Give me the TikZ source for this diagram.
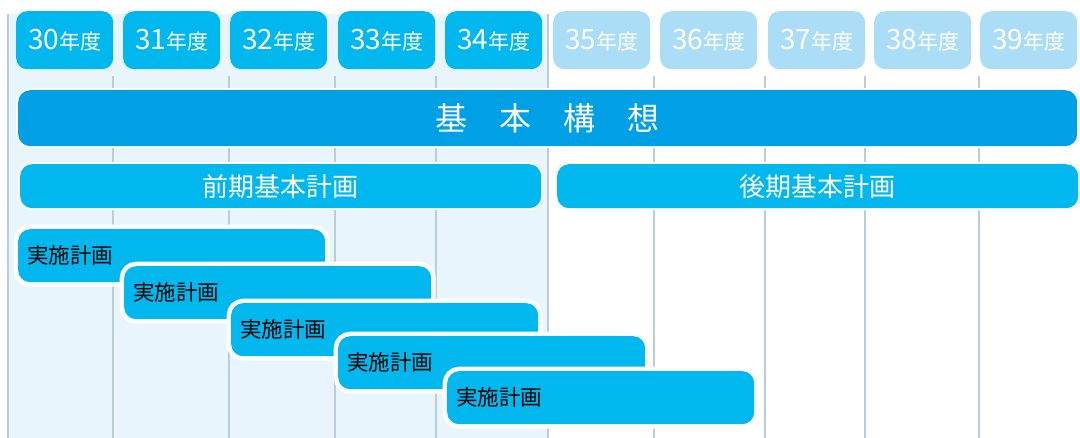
\documentclass[tikz,border=0pt]{standalone}
\usepackage{fontspec}
\setmainfont{Noto Sans CJK JP}
\definecolor{cyanA}{HTML}{00B8EE}
\definecolor{blueK}{HTML}{00A0E6}
\definecolor{paleY}{HTML}{ABDDF7}
\definecolor{bgL}{HTML}{E8F5FD}
\definecolor{gridC}{HTML}{BACDDB}
\begin{document}
\begin{tikzpicture}[x=1pt,y=-1pt,
  yearbox/.style={rounded corners=11pt, inner sep=0pt, anchor=north west, text=white,
    minimum width=97pt, minimum height=58pt},
  planbar/.style={rounded corners=12pt, inner sep=0pt, anchor=north west, text=white,
    preaction={draw=white, line width=4pt}},
  jbar/.style={rounded corners=12pt, inner xsep=9pt, inner ysep=0pt, anchor=north west,
    fill=cyanA, text=black, text width=289pt, align=left, minimum height=53pt,
    preaction={draw=white, line width=9pt},
    font=\fontsize{21.5pt}{23pt}\selectfont},
  gridline/.style={draw=gridC, line width=2.4pt}]
\useasboundingbox (0,0) rectangle (1080,438);
\fill[white] (0,0) rectangle (1080,438);
\fill[bgL] (9,14) rectangle (548,438);
% grid lines
\draw[gridline] (8,14) -- (8,438);
\draw[gridline] (548,14) -- (548,438);
\foreach \gx in {113,229,335,436,654,765,865,979}
  \draw[gridline] (\gx,76) -- (\gx,438);
% year boxes
\foreach \bx/\yr/\col in {16/30/cyanA,123/31/cyanA,230/32/cyanA,338/33/cyanA,445/34/cyanA,
    553/35/paleY,660/36/paleY,768/37/paleY,874/38/paleY,980/39/paleY}
  \node[yearbox, fill=\col] (y\yr) at (\bx,11)
    {\fontsize{28pt}{28pt}\selectfont\yr\fontsize{21pt}{21pt}\selectfont 年度};
% basic concept
\node[planbar, fill=blueK, minimum width=1059pt, minimum height=56pt,
  font=\fontsize{32pt}{32pt}\selectfont] (kihon) at (18,90) {基　本　構　想};
\node[planbar, fill=cyanA, minimum width=521pt, minimum height=44pt,
  font=\fontsize{26pt}{26pt}\selectfont] (zenki) at (20,164) {前期基本計画};
\node[planbar, fill=cyanA, minimum width=521pt, minimum height=44pt,
  font=\fontsize{26pt}{26pt}\selectfont] (kouki) at (557,164) {後期基本計画};
% implementation plans
\node[jbar] (j1) at (18,229) {実施計画};
\node[jbar] (j2) at (124,266) {実施計画};
\node[jbar] (j3) at (231,303) {実施計画};
\node[jbar] (j4) at (338,336) {実施計画};
\node[jbar] (j5) at (447,371) {実施計画};
\end{tikzpicture}
\end{document}
